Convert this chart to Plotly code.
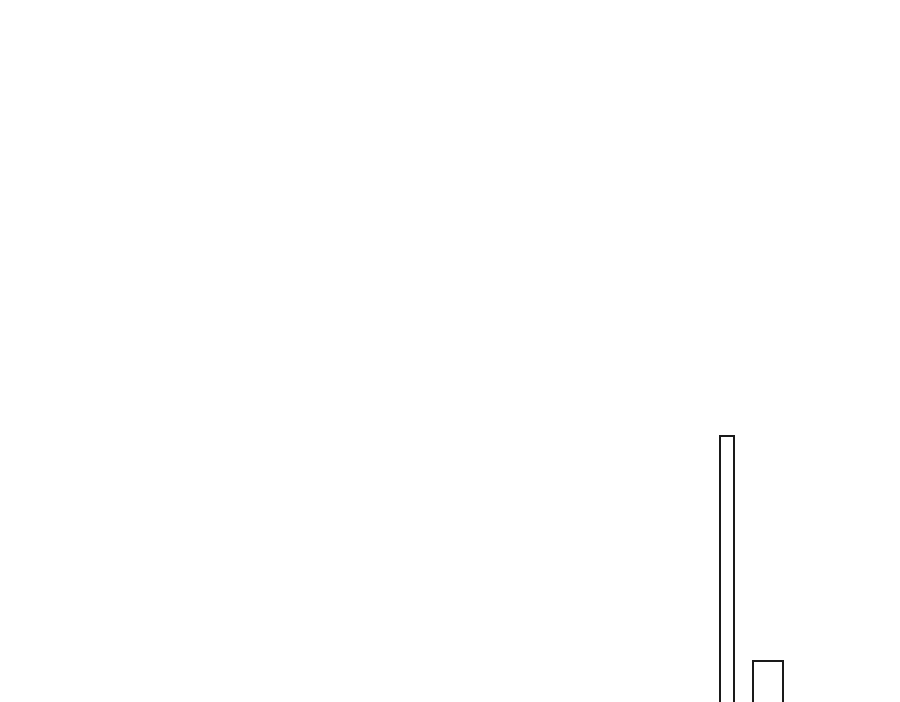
import plotly.graph_objects as go

# bar positions / widths / heights (axis units)
positions = [727, 768]
widths = [14, 30]
values = [266, 41]

fig = go.Figure()

fig.add_trace(go.Bar(
    x=positions,
    y=[v + 20 for v in values],
    base=-20,
    width=widths,
    marker=dict(color='white', line=dict(color='#1a1a1a', width=2)),
    showlegend=False,
    hoverinfo='skip',
))

# ranges shifted by 8 to make up for the page's body margin
fig.update_layout(
    width=900, height=702,
    margin=dict(l=0, r=0, t=0, b=0),
    paper_bgcolor='white',
    plot_bgcolor='white',
    xaxis=dict(range=[8, 908], visible=False),
    yaxis=dict(range=[-8, 694], visible=False),
)

fig.write_html("out.html")
